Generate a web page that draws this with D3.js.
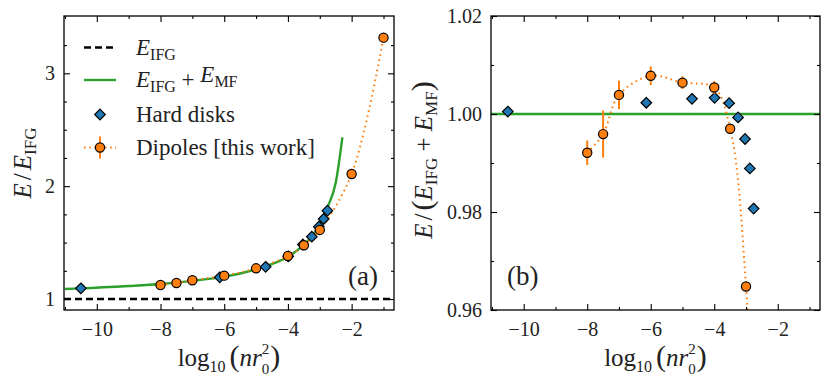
<!DOCTYPE html>
<html>
<head>
<meta charset="utf-8">
<script src="https://cdn.jsdelivr.net/npm/d3@7"></script>
<style>
  body { margin: 0; background: #fff; }
  svg text { font-family: "Liberation Serif", "DejaVu Serif", serif; }
</style>
</head>
<body>
<div id="chart"></div>
<script>
// values
var dipoleLogN = [-8, -7.5, -7, -6, -5, -4, -3.5, -3, -2, -1];
var dipoleE = [1.124, 1.142, 1.166, 1.207, 1.272, 1.381, 1.476, 1.612, 2.108, 3.316];
var dipoleRatio = [0.9921, 0.9959, 1.0039, 1.0078, 1.0064, 1.0054, 0.9970, 0.9648, 0.80];
var dipoleRatioErr = [0.0025, 0.0048, 0.0029, 0.0019, 0.0013, 0.0013, 0.0008, 0.0005, 0];

var hardDiskLogN = [-10.5, -6.14, -4.70, -3.99, -3.53, -3.25, -3.03, -2.88, -2.76];
var hardDiskE = [1.095, 1.192, 1.285, 1.378, 1.483, 1.552, 1.641, 1.709, 1.783];
var hardDiskRatio = [1.0005, 1.0023, 1.0031, 1.0033, 1.0022, 0.9993, 0.9949, 0.9889, 0.9807];

var mfLogN = [-11, -10.5, -9, -8, -7, -6, -5, -4, -3.5, -3.25, -3, -2.75, -2.5, -2.29];
var mfE = [1.089, 1.094, 1.115, 1.133, 1.161, 1.198, 1.265, 1.374, 1.480, 1.553, 1.665, 1.818, 2.03, 2.433];

var ifgLevel = 1;
var mfRatioLevel = 1;

var xMajor = [-10, -8, -6, -4, -2];
var xMinor = [-11, -9, -7, -5, -3, -1];
var yMajorA = [1, 2, 3];
var yMinorA = [1.25, 1.5, 1.75, 2.25, 2.5, 2.75, 3.25];
var yMajorB = [0.96, 0.98, 1.00, 1.02];
var yMinorB = [0.97, 0.99, 1.01];

var width = 830, height = 391;
var orange = "#ff7f0e", green = "#2ca02c", blue = "#1f77b4";
var xDomain = [-11.03, -0.67];
var serif = "Liberation Serif, DejaVu Serif, serif";

var svg = d3.select("#chart").append("svg")
  .attr("width", width)
  .attr("height", height);

svg.append("rect").attr("width", width).attr("height", height).attr("fill", "#fff");

function makePanel(id, left, top, w, h, yDomain) {
  var g = svg.append("g").attr("transform", "translate(" + left + "," + top + ")");
  g.append("clipPath").attr("id", id)
    .append("rect").attr("width", w).attr("height", h);
  var x = d3.scaleLinear().domain(xDomain).range([0, w]);
  var y = d3.scaleLinear().domain(yDomain).range([h, 0]);
  var plot = g.append("g").attr("clip-path", "url(#" + id + ")");
  return { g: g, plot: plot, x: x, y: y, w: w, h: h };
}

function drawAxes(p, yMajor, yMinor, yFmt) {
  var g = p.g;
  function style(sel) {
    sel.select(".domain").remove();
    sel.selectAll("line").attr("stroke", "#000").attr("stroke-width", 1.1);
    sel.selectAll("text").attr("font-size", 20).attr("fill", "#222")
      .attr("font-family", serif);
  }
  g.append("g").attr("transform", "translate(0," + p.h + ")")
    .call(d3.axisBottom(p.x).tickValues(xMajor).tickSize(-6).tickPadding(12).tickFormat(d3.format("d")))
    .call(style);
  g.append("g").attr("transform", "translate(0," + p.h + ")")
    .call(d3.axisBottom(p.x).tickValues(xMinor).tickSize(-3).tickFormat(""))
    .call(style);
  g.append("g")
    .call(d3.axisTop(p.x).tickValues(xMajor).tickSize(-6).tickFormat(""))
    .call(style);
  g.append("g")
    .call(d3.axisTop(p.x).tickValues(xMinor).tickSize(-3).tickFormat(""))
    .call(style);
  g.append("g")
    .call(d3.axisLeft(p.y).tickValues(yMajor).tickSize(-6).tickPadding(9).tickFormat(yFmt))
    .call(style);
  g.append("g")
    .call(d3.axisLeft(p.y).tickValues(yMinor).tickSize(-3).tickFormat(""))
    .call(style);
  g.append("g").attr("transform", "translate(" + p.w + ",0)")
    .call(d3.axisRight(p.y).tickValues(yMajor).tickSize(-6).tickFormat(""))
    .call(style);
  g.append("g").attr("transform", "translate(" + p.w + ",0)")
    .call(d3.axisRight(p.y).tickValues(yMinor).tickSize(-3).tickFormat(""))
    .call(style);
  g.append("rect").attr("width", p.w).attr("height", p.h)
    .attr("fill", "none").attr("stroke", "#000").attr("stroke-width", 1.3);

  // x axis title
  var t = g.append("text")
    .attr("x", p.w / 2).attr("y", p.h + 56)
    .attr("text-anchor", "middle")
    .attr("font-size", 25).attr("fill", "#222");
  t.append("tspan").text("log");
  t.append("tspan").attr("font-size", 16).attr("dy", 6).text("10");
  t.append("tspan").attr("font-size", 30).attr("dy", -6).attr("dx", 4).text("(");
  t.append("tspan").attr("font-style", "italic").attr("dy", 0).text("nr");
  t.append("tspan").attr("font-size", 15).attr("dy", -12).text("2");
  t.append("tspan").attr("font-size", 15).attr("dy", 20).attr("dx", -7.5).text("0");
  t.append("tspan").attr("font-size", 30).attr("dy", -8).attr("dx", 1).text(")");
}

function diamond(sel, x, y) {
  sel.attr("d", function (d) {
    var cx = x(d[0]), cy = y(d[1]), r = 5.3;
    return "M" + cx + "," + (cy - r) + "L" + (cx + r) + "," + cy + "L" + cx + "," + (cy + r) + "L" + (cx - r) + "," + cy + "Z";
  })
    .attr("fill", blue).attr("stroke", "#000").attr("stroke-width", 1.2);
}

// ---------- panel (a)
var pa = makePanel("clipA", 64, 16, 330, 294, [0.9025, 3.508]);

pa.plot.append("line")
  .attr("x1", 0).attr("x2", pa.w)
  .attr("y1", pa.y(ifgLevel)).attr("y2", pa.y(ifgLevel))
  .attr("stroke", "#000").attr("stroke-width", 2.6).attr("stroke-dasharray", "7,4");

var mfData = mfLogN.map(function (v, i) { return [v, mfE[i]]; });
pa.plot.append("path").datum(mfData)
  .attr("d", d3.line().x(function (d) { return pa.x(d[0]); }).y(function (d) { return pa.y(d[1]); }).curve(d3.curveMonotoneX))
  .attr("fill", "none").attr("stroke", green).attr("stroke-width", 2.4);

var dipA = dipoleLogN.map(function (v, i) { return [v, dipoleE[i]]; });
pa.plot.append("path").datum(dipA)
  .attr("d", d3.line().x(function (d) { return pa.x(d[0]); }).y(function (d) { return pa.y(d[1]); }).curve(d3.curveCatmullRom))
  .attr("fill", "none").attr("stroke", orange).attr("stroke-width", 2)
  .attr("stroke-dasharray", "1.6,3.6");

var hdA = hardDiskLogN.map(function (v, i) { return [v, hardDiskE[i]]; });
pa.plot.selectAll(".hd").data(hdA).enter().append("path").attr("class", "hd")
  .call(diamond, pa.x, pa.y);

pa.plot.selectAll(".dp").data(dipA).enter().append("circle").attr("class", "dp")
  .attr("cx", function (d) { return pa.x(d[0]); })
  .attr("cy", function (d) { return pa.y(d[1]); })
  .attr("r", 4.6)
  .attr("fill", orange).attr("stroke", "#000").attr("stroke-width", 1.2);

drawAxes(pa, yMajorA, yMinorA, d3.format("d"));

pa.g.append("text").attr("x", pa.w - 16).attr("y", 269)
  .attr("text-anchor", "end").attr("font-size", 27).attr("fill", "#222").text("(a)");

// y title (a)
var ta = svg.append("text")
  .attr("transform", "translate(31,163) rotate(-90)")
  .attr("text-anchor", "middle").attr("font-size", 25).attr("fill", "#222");
ta.append("tspan").attr("font-style", "italic").text("E");
ta.append("tspan").attr("dx", 3).text("/");
ta.append("tspan").attr("dx", 3).attr("font-style", "italic").text("E");
ta.append("tspan").attr("font-size", 17).attr("dy", 5).text("IFG");

// legend
var leg = pa.g.append("g");
var legText = [
  [["E", "i"], ["IFG", "s"]],
  [["E", "i"], ["IFG", "s"], [" + ", "n"], ["E", "i"], ["MF", "s"]],
  [["Hard disks", "n"]],
  [["Dipoles [this work]", "n"]]
];
var legY = [31.5, 64, 98.5, 131.5];
legText.forEach(function (parts, i) {
  var t = leg.append("text").attr("x", 72).attr("y", legY[i] + 7)
    .attr("font-size", 23).attr("fill", "#222");
  parts.forEach(function (p, j) {
    var s = t.append("tspan").text(p[0]);
    if (p[1] === "i") s.attr("font-style", "italic").attr("dy", j > 0 ? -5 : 0);
    if (p[1] === "s") s.attr("font-size", 16).attr("dy", 5);
    if (p[1] === "n" && j > 0) s.attr("dy", -5);
  });
});
leg.append("line").attr("x1", 20).attr("x2", 52).attr("y1", legY[0]).attr("y2", legY[0])
  .attr("stroke", "#000").attr("stroke-width", 2.6).attr("stroke-dasharray", "7,4");
leg.append("line").attr("x1", 20).attr("x2", 52).attr("y1", legY[1]).attr("y2", legY[1])
  .attr("stroke", green).attr("stroke-width", 2.4);
leg.append("path")
  .attr("d", function () {
    var cx = 36, cy = legY[2], r = 5.3;
    return "M" + cx + "," + (cy - r) + "L" + (cx + r) + "," + cy + "L" + cx + "," + (cy + r) + "L" + (cx - r) + "," + cy + "Z";
  })
  .attr("fill", blue).attr("stroke", "#000").attr("stroke-width", 1.2);
leg.append("line").attr("x1", 20).attr("x2", 52).attr("y1", legY[3]).attr("y2", legY[3])
  .attr("stroke", orange).attr("stroke-width", 2).attr("stroke-dasharray", "1.6,3.6");
leg.append("line").attr("x1", 36).attr("x2", 36).attr("y1", legY[3] - 11).attr("y2", legY[3] + 11)
  .attr("stroke", orange).attr("stroke-width", 2);
leg.append("circle").attr("cx", 36).attr("cy", legY[3]).attr("r", 4.6)
  .attr("fill", orange).attr("stroke", "#000").attr("stroke-width", 1.2);

// ---------- panel (b)
var pb = makePanel("clipB", 491, 16, 329, 294, [0.96, 1.02]);

pb.plot.append("line")
  .attr("x1", pb.x(xDomain[0])).attr("x2", pb.x(xDomain[1]))
  .attr("y1", pb.y(mfRatioLevel)).attr("y2", pb.y(mfRatioLevel))
  .attr("stroke", green).attr("stroke-width", 2.4);

var dipB = dipoleRatio.map(function (v, i) { return [dipoleLogN[i], v, dipoleRatioErr[i]]; });
pb.plot.append("path").datum(dipB)
  .attr("d", d3.line().x(function (d) { return pb.x(d[0]); }).y(function (d) { return pb.y(d[1]); }).curve(d3.curveCatmullRom))
  .attr("fill", "none").attr("stroke", orange).attr("stroke-width", 2)
  .attr("stroke-dasharray", "1.6,3.6");

var hdB = hardDiskLogN.map(function (v, i) { return [v, hardDiskRatio[i]]; });
pb.plot.selectAll(".hd").data(hdB).enter().append("path").attr("class", "hd")
  .call(diamond, pb.x, pb.y);

pb.plot.selectAll(".err").data(dipB).enter().append("line").attr("class", "err")
  .attr("x1", function (d) { return pb.x(d[0]); })
  .attr("x2", function (d) { return pb.x(d[0]); })
  .attr("y1", function (d) { return pb.y(d[1] - d[2]); })
  .attr("y2", function (d) { return pb.y(d[1] + d[2]); })
  .attr("stroke", orange).attr("stroke-width", 2);

pb.plot.selectAll(".dp").data(dipB).enter().append("circle").attr("class", "dp")
  .attr("cx", function (d) { return pb.x(d[0]); })
  .attr("cy", function (d) { return pb.y(d[1]); })
  .attr("r", 4.6)
  .attr("fill", orange).attr("stroke", "#000").attr("stroke-width", 1.2);

drawAxes(pb, yMajorB, yMinorB, d3.format(".2f"));

pb.g.append("text").attr("x", 16).attr("y", 269)
  .attr("font-size", 27).attr("fill", "#222").text("(b)");

var tb = svg.append("text")
  .attr("transform", "translate(432,160) rotate(-90)")
  .attr("text-anchor", "middle").attr("font-size", 25).attr("fill", "#222");
tb.append("tspan").attr("font-style", "italic").text("E");
tb.append("tspan").attr("dx", 3).text("/");
tb.append("tspan").attr("dx", 3).attr("font-size", 30).text("(");
tb.append("tspan").attr("font-style", "italic").text("E");
tb.append("tspan").attr("font-size", 17).attr("dy", 5).text("IFG");
tb.append("tspan").attr("dy", -5).text(" + ");
tb.append("tspan").attr("font-style", "italic").text("E");
tb.append("tspan").attr("font-size", 17).attr("dy", 5).text("MF");
tb.append("tspan").attr("font-size", 30).attr("dy", -5).text(")");
</script>
</body>
</html>
